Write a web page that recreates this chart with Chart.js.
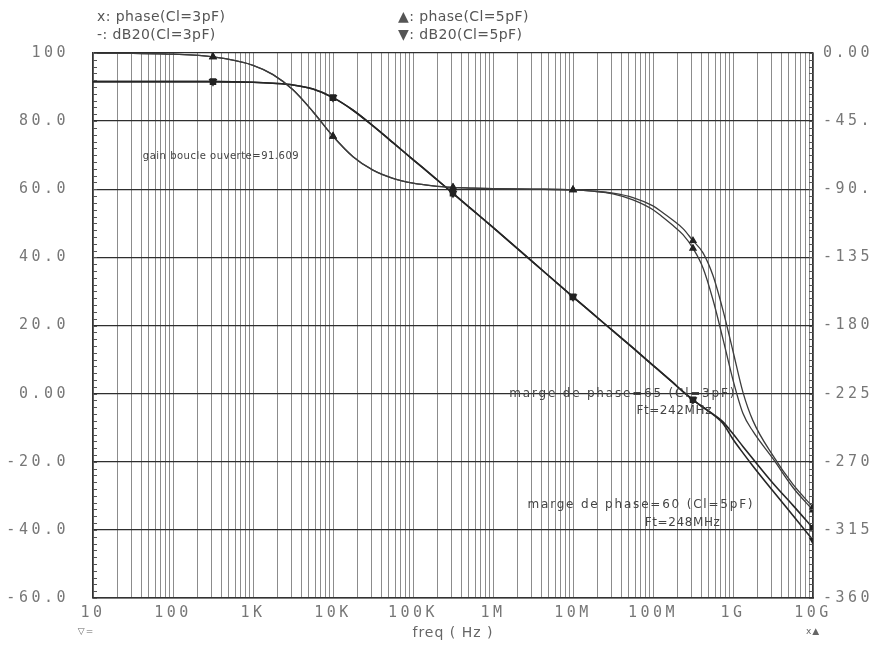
<!DOCTYPE html>
<html><head><meta charset="utf-8">
<script src="https://cdn.jsdelivr.net/npm/chart.js@4.4.1/dist/chart.umd.min.js"></script>
<style>html,body{margin:0;padding:0;background:#fff;}#wrap{width:873px;height:646px;}</style>
</head><body><div id="wrap"><canvas id="c" width="873" height="646"></canvas></div>
<script>
// ---- data ----
const freqHz = [10, 31.6, 100, 316, 1e3, 1.78e3, 3.16e3, 5.62e3, 1e4, 1.78e4, 3.16e4, 5.62e4, 1e5, 1.78e5, 3.16e5, 5.62e5, 1e6, 3.16e6, 1e7, 1.78e7, 3.16e7, 5.62e7, 1e8, 1.33e8, 1.78e8, 2.37e8, 3.16e8, 4.22e8, 5.62e8, 7.5e8, 1e9, 1.33e9, 1.78e9, 3.16e9, 5.62e9, 1e10];
const phase3pF = [-0.1, -0.3, -0.8, -2.6, -8.1, -14.3, -24.3, -38.8, -55, -68.5, -77.4, -82.8, -86, -87.8, -88.8, -89.3, -89.6, -89.9, -90.4, -91.2, -92.6, -95.5, -101, -105.5, -110.5, -116, -124, -132, -147, -170, -197, -224, -243, -266, -285, -300];
const phase5pF = [-0.1, -0.3, -0.8, -2.6, -8.1, -14.3, -24.3, -38.8, -55, -68.5, -77.4, -82.8, -86, -87.8, -88.8, -89.3, -89.6, -89.9, -90.4, -91.3, -93, -97, -103.5, -108.5, -114, -120, -129, -142, -163, -189, -216, -238, -250, -268, -287, -302];
const dB3pF = [91.6, 91.6, 91.6, 91.6, 91.4, 91.1, 90.6, 89.4, 86.9, 83.2, 78.6, 73.7, 68.7, 63.8, 58.8, 53.8, 48.8, 38.6, 28.4, 23.4, 18.4, 13.4, 8.3, 5.8, 3.2, 0.6, -1.8, -4.0, -6.0, -8.3, -11.8, -15.5, -19.2, -26.3, -32.8, -39.5];
const dB5pF = [91.6, 91.6, 91.6, 91.6, 91.4, 91.1, 90.6, 89.4, 86.9, 83.2, 78.6, 73.7, 68.7, 63.8, 58.8, 53.8, 48.8, 38.6, 28.4, 23.4, 18.4, 13.4, 8.3, 5.8, 3.2, 0.6, -1.8, -4.0, -6.1, -8.8, -13.4, -17.4, -21.3, -28.6, -35.8, -43.0];
const markerFreqs = [316, 1e4, 3.16e5, 1e7, 3.16e8, 1e10];
const decadeValues = [10, 100, 1e3, 1e4, 1e5, 1e6, 1e7, 1e8, 1e9, 1e10];
const decadeLabels = ['10', '100', '1K', '10K', '100K', '1M', '10M', '100M', '1G', '10G'];
const leftTickLabels = ['-60.0', '-40.0', '-20.0', '0.00', '20.0', '40.0', '60.0', '80.0', '100'];
const rightTickLabels = ['-360', '-315', '-270', '-225', '-180', '-135', '-90.0', '-45.0', '0.00'];
const legendLabels = ['x: phase(Cl=3pF)', '-: dB20(Cl=3pF)', '\u25B2: phase(Cl=5pF)', '\u25BC: dB20(Cl=5pF)'];
const noteTexts = ['gain boucle ouverte=91.609', 'marge de phase=65 (Cl=3pF)', 'Ft=242MHz', 'marge de phase=60 (Cl=5pF)', 'Ft=248MHz'];
const xTitle = 'freq ( Hz )';

const pts = arr => arr.map((v, i) => ({x: freqHz[i], y: v}));
const markR = ctx => markerFreqs.includes(freqHz[ctx.dataIndex]) ? 3.5 : 0;

const allTicks = [];
for (let e = 1; e < 10; e++) for (let m = 1; m < 10; m++) allTicks.push(m * Math.pow(10, e));
allTicks.push(1e10);

const decor = {
  id: 'decor',
  beforeDraw(chart) { chart.ctx.letterSpacing = '3.5px'; },
  afterDraw(chart) {
    const {ctx, chartArea: a, scales} = chart;
    ctx.save();
    ctx.letterSpacing = '0px';
    ctx.strokeStyle = '#555'; ctx.lineWidth = 1;
    for (let v = -60; v <= 100; v += 2) {
      const y = Math.round(scales.y.getPixelForValue(v)) + 0.5;
      ctx.beginPath();
      ctx.moveTo(a.left, y); ctx.lineTo(a.left + 4, y);
      ctx.moveTo(a.right - 4, y); ctx.lineTo(a.right, y);
      ctx.stroke();
    }
    // legend
    ctx.fillStyle = '#555'; ctx.textBaseline = 'middle'; ctx.textAlign = 'left';
    ctx.font = '14px "DejaVu Sans"'; ctx.letterSpacing = '0.4px';
    ctx.fillText(legendLabels[0], 97, 17);
    ctx.fillText(legendLabels[1], 97, 35);
    ctx.fillText(legendLabels[2], 398, 17);
    ctx.fillText(legendLabels[3], 398, 35);
    // annotations
    const X = f => scales.x.getPixelForValue(f), Y = v => scales.y.getPixelForValue(v);
    ctx.fillStyle = '#444';
    ctx.font = '10px "DejaVu Sans"'; ctx.letterSpacing = '0.5px';
    ctx.fillText(noteTexts[0], X(42), Y(69.5));
    ctx.font = '12px "DejaVu Sans"'; ctx.letterSpacing = '1.8px';
    ctx.fillText(noteTexts[1], X(1.6e6), Y(0));
    ctx.fillText(noteTexts[3], X(2.7e6), Y(-32.8));
    ctx.letterSpacing = '0.6px';
    ctx.fillText(noteTexts[2], X(6.2e7), Y(-5));
    ctx.fillText(noteTexts[4], X(7.9e7), Y(-37.8));
    // x title and axis symbols
    ctx.fillStyle = '#666'; ctx.textAlign = 'center';
    ctx.font = '14px "DejaVu Sans"'; ctx.letterSpacing = '1px';
    ctx.fillText(xTitle, (a.left + a.right) / 2, a.bottom + 35);
    ctx.font = '9px "DejaVu Sans"';
    ctx.fillText('\u25BD=', a.left - 7, a.bottom + 34);
    ctx.fillText('x\u25B2', a.right, a.bottom + 34);
    ctx.restore();
  }
};

const tickFont = {family: '"DejaVu Sans Mono"', size: 15};

new Chart(document.getElementById('c'), {
  type: 'line',
  data: {
    datasets: [
      {label: 'phase(Cl=3pF)', data: pts(phase3pF), yAxisID: 'y2', borderColor: '#3c3c3c', borderWidth: 1.3, pointStyle: 'triangle', pointRadius: markR, pointBackgroundColor: '#222', pointBorderColor: '#222', cubicInterpolationMode: 'monotone'},
      {label: 'dB20(Cl=3pF)', data: pts(dB3pF), yAxisID: 'y', borderColor: '#262626', borderWidth: 1.6, pointStyle: 'rect', pointRadius: markR, pointBackgroundColor: '#222', pointBorderColor: '#222', cubicInterpolationMode: 'monotone'},
      {label: 'phase(Cl=5pF)', data: pts(phase5pF), yAxisID: 'y2', borderColor: '#3c3c3c', borderWidth: 1.3, pointStyle: 'triangle', pointRadius: markR, pointBackgroundColor: '#222', pointBorderColor: '#222', cubicInterpolationMode: 'monotone'},
      {label: 'dB20(Cl=5pF)', data: pts(dB5pF), yAxisID: 'y', borderColor: '#262626', borderWidth: 1.6, pointStyle: 'triangle', pointRotation: 180, pointRadius: markR, pointBackgroundColor: '#222', pointBorderColor: '#222', cubicInterpolationMode: 'monotone'}
    ]
  },
  options: {
    responsive: false, animation: false, devicePixelRatio: 1,
    layout: {padding: {top: 53, left: 0, right: 0, bottom: 0}},
    plugins: {legend: {display: false}, tooltip: {enabled: false}},
    scales: {
      x: {
        type: 'logarithmic', min: 10, max: 1e10,
        afterBuildTicks: s => { s.ticks = allTicks.map(v => ({value: v})); },
        afterFit: s => { s.height = 48; },
        ticks: {autoSkip: false, maxRotation: 0, padding: 6, color: '#777', font: tickFont,
          callback: v => { const i = decadeValues.indexOf(v); return i >= 0 ? decadeLabels[i] : ''; }},
        grid: {drawTicks: false, color: '#8c8c8c', lineWidth: 1},
        border: {color: '#333', width: 1.5}
      },
      y: {
        type: 'linear', position: 'left', min: -60, max: 100,
        afterFit: s => { s.width = 93; },
        ticks: {stepSize: 20, padding: 24, color: '#777', font: tickFont,
          callback: v => leftTickLabels[Math.round((v + 60) / 20)]},
        grid: {drawTicks: false, color: '#2e2e2e', lineWidth: 1.3},
        border: {color: '#333', width: 1.5}
      },
      y2: {
        type: 'linear', position: 'right', min: -360, max: 0,
        afterFit: s => { s.width = 60; },
        ticks: {stepSize: 45, padding: 10, color: '#777', font: tickFont,
          callback: v => rightTickLabels[Math.round((v + 360) / 45)]},
        grid: {drawOnChartArea: false, drawTicks: false},
        border: {color: '#333', width: 1.5}
      }
    }
  },
  plugins: [decor]
});
</script>
</body></html>
